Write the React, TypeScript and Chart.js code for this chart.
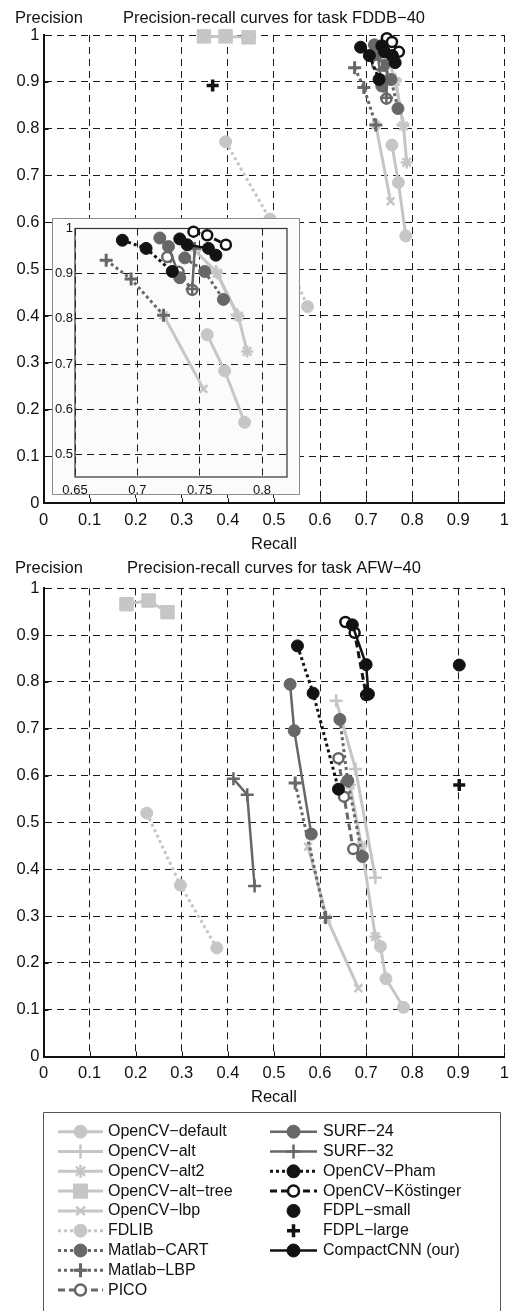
import React, { useEffect, useRef } from 'react';
import { Chart, registerables } from 'chart.js';
import { drawPoint } from 'chart.js/helpers';

Chart.register(...registerables);

const FONT = '"Liberation Sans", Arial, Helvetica, sans-serif';

const methodNames = [
  'OpenCV−default', 'OpenCV−alt', 'OpenCV−alt2', 'OpenCV−alt−tree', 'OpenCV−lbp',
  'FDLIB', 'Matlab−CART', 'Matlab−LBP', 'PICO', 'SURF−24', 'SURF−32',
  'OpenCV−Pham', 'OpenCV−Köstinger', 'FDPL−small', 'FDPL−large', 'CompactCNN (our)',
];

// FDDB-40: [recall, precision]
const fddbOpenCVDefault = [[0.756, 0.765], [0.770, 0.685], [0.786, 0.571]];
const fddbOpenCVAlt = [[0.746, 0.952], [0.763, 0.905], [0.780, 0.809]];
const fddbOpenCVAlt2 = [[0.764, 0.901], [0.781, 0.806], [0.788, 0.728]];
const fddbOpenCVAltTree = [[0.348, 0.997], [0.395, 0.997], [0.445, 0.995]];
const fddbOpenCVLbp = [[0.721, 0.808], [0.753, 0.645]];
const fddbFdlib = [[0.395, 0.772], [0.491, 0.607], [0.573, 0.420]];
const fddbMatlabCart = [[0.738, 0.935], [0.754, 0.905], [0.769, 0.843]];
const fddbMatlabLbp = [[0.675, 0.930], [0.695, 0.888], [0.721, 0.808]];
const fddbPico = [[0.724, 0.937], [0.733, 0.904], [0.744, 0.864]];
const fddbSurf24 = [[0.718, 0.979], [0.725, 0.960], [0.734, 0.891]];
const fddbSurf32 = [[0.746, 0.956], [0.744, 0.866]];
const fddbPham = [[0.688, 0.974], [0.707, 0.956], [0.728, 0.905]];
const fddbKostinger = [[0.745, 0.993], [0.756, 0.985], [0.771, 0.964]];
const fddbFdplSmall = [[0.734, 0.977]];
const fddbFdplLarge = [[0.367, 0.892]];
const fddbCompactCnn = [[0.740, 0.964], [0.757, 0.956], [0.763, 0.941]];

// AFW-40: [recall, precision]
const afwOpenCVDefault = [[0.731, 0.235], [0.743, 0.166], [0.781, 0.105]];
const afwOpenCVAlt = [[0.635, 0.760], [0.677, 0.614], [0.720, 0.382]];
const afwOpenCVAlt2 = [[0.665, 0.580], [0.690, 0.450], [0.720, 0.256]];
const afwOpenCVAltTree = [[0.180, 0.966], [0.228, 0.974], [0.269, 0.949]];
const afwOpenCVLbp = [[0.574, 0.448], [0.615, 0.295], [0.683, 0.146]];
const afwFdlib = [[0.224, 0.520], [0.297, 0.366], [0.376, 0.232]];
const afwMatlabCart = [[0.643, 0.720], [0.660, 0.589], [0.692, 0.427]];
const afwMatlabLbp = [[0.546, 0.584], [0.612, 0.297]];
const afwPico = [[0.640, 0.637], [0.652, 0.555], [0.672, 0.443]];
const afwSurf24 = [[0.535, 0.795], [0.544, 0.696], [0.581, 0.475]];
const afwSurf32 = [[0.412, 0.593], [0.442, 0.559], [0.458, 0.364]];
const afwPham = [[0.551, 0.877], [0.585, 0.776], [0.640, 0.571]];
const afwKostinger = [[0.655, 0.928], [0.675, 0.905], [0.700, 0.772]];
const afwFdplSmall = [[0.902, 0.836]];
const afwFdplLarge = [[0.902, 0.580]];
const afwCompactCnn = [[0.670, 0.922], [0.700, 0.837], [0.705, 0.774]];

const fddbSeries = [
  fddbOpenCVDefault, fddbOpenCVAlt, fddbOpenCVAlt2, fddbOpenCVAltTree, fddbOpenCVLbp,
  fddbFdlib, fddbMatlabCart, fddbMatlabLbp, fddbPico, fddbSurf24, fddbSurf32,
  fddbPham, fddbKostinger, fddbFdplSmall, fddbFdplLarge, fddbCompactCnn,
];
const afwSeries = [
  afwOpenCVDefault, afwOpenCVAlt, afwOpenCVAlt2, afwOpenCVAltTree, afwOpenCVLbp,
  afwFdlib, afwMatlabCart, afwMatlabLbp, afwPico, afwSurf24, afwSurf32,
  afwPham, afwKostinger, afwFdplSmall, afwFdplLarge, afwCompactCnn,
];

const mainTickValues = [0, 0.1, 0.2, 0.3, 0.4, 0.5, 0.6, 0.7, 0.8, 0.9, 1];
const mainTickLabels = ['0', '0.1', '0.2', '0.3', '0.4', '0.5', '0.6', '0.7', '0.8', '0.9', '1'];
const insetXTickValues = [0.65, 0.7, 0.75, 0.8];
const insetXTickLabels = ['0.65', '0.7', '0.75', '0.8'];
const insetYTickValues = [0.5, 0.6, 0.7, 0.8, 0.9, 1];
const insetYTickLabels = ['0.5', '0.6', '0.7', '0.8', '0.9', '1'];

const LIGHT = '#c6c6c6';
const DARK = '#676767';
const BLACK = '#121212';

type Sty = { color: string; dash: number[]; line: boolean; lineWidth: number; point: string; radius: number; pbw: number; open?: boolean };
const styles: Sty[] = [
  { color: LIGHT, dash: [], line: true, lineWidth: 3, point: 'circle', radius: 6, pbw: 1 },
  { color: LIGHT, dash: [], line: true, lineWidth: 3, point: 'cross', radius: 6.5, pbw: 2.5 },
  { color: LIGHT, dash: [], line: true, lineWidth: 3, point: 'star', radius: 6, pbw: 2.5 },
  { color: LIGHT, dash: [], line: true, lineWidth: 3, point: 'rect', radius: 9.5, pbw: 1 },
  { color: LIGHT, dash: [], line: true, lineWidth: 3, point: 'crossRot', radius: 5.5, pbw: 2.5 },
  { color: LIGHT, dash: [3, 3], line: true, lineWidth: 3, point: 'circle', radius: 6, pbw: 1 },
  { color: DARK, dash: [3, 3], line: true, lineWidth: 3, point: 'circle', radius: 6, pbw: 1 },
  { color: DARK, dash: [3, 3], line: true, lineWidth: 3, point: 'cross', radius: 6.5, pbw: 3 },
  { color: DARK, dash: [7, 4], line: true, lineWidth: 3, point: 'circle', radius: 5, pbw: 2.5, open: true },
  { color: DARK, dash: [], line: true, lineWidth: 2.5, point: 'circle', radius: 6, pbw: 1 },
  { color: DARK, dash: [], line: true, lineWidth: 2.5, point: 'cross', radius: 6.5, pbw: 2.5 },
  { color: BLACK, dash: [3, 3], line: true, lineWidth: 3, point: 'circle', radius: 6, pbw: 1 },
  { color: BLACK, dash: [7, 4], line: true, lineWidth: 3, point: 'circle', radius: 5, pbw: 2.5, open: true },
  { color: BLACK, dash: [], line: false, lineWidth: 0, point: 'circle', radius: 6, pbw: 1 },
  { color: BLACK, dash: [], line: false, lineWidth: 0, point: 'cross', radius: 6, pbw: 3.5 },
  { color: BLACK, dash: [], line: true, lineWidth: 2.5, point: 'circle', radius: 6, pbw: 1 },
];

function buildDatasets(series: number[][][], clip: any) {
  return series.map((pts, i) => {
    const s = styles[i];
    return {
      label: methodNames[i],
      data: pts.map(([x, y]) => ({ x, y })),
      showLine: s.line,
      borderColor: s.color,
      backgroundColor: s.color,
      borderWidth: s.lineWidth,
      borderDash: s.dash,
      borderCapStyle: 'butt',
      pointStyle: s.point,
      pointRadius: s.radius,
      pointHoverRadius: s.radius,
      pointBorderWidth: s.pbw,
      pointBorderColor: s.color,
      pointBackgroundColor: s.open ? '#ffffff' : s.color,
      order: series.length - i,
      clip,
    };
  });
}

function scaleOpts(min: number, max: number, values: number[], labels: string[], fontSize: number, padding: number, size: number, horizontal: boolean, showBorder: boolean) {
  return {
    type: 'linear',
    min,
    max,
    afterBuildTicks: (s: any) => { s.ticks = values.map((v) => ({ value: v })); },
    afterFit: (s: any) => { if (horizontal) s.height = size; else s.width = size; },
    ticks: {
      callback: (_v: any, i: number) => labels[i],
      font: { family: FONT, size: fontSize },
      color: '#111111',
      padding,
      maxRotation: 0,
      minRotation: 0,
      autoSkip: false,
    },
    grid: { color: '#1a1a1a', lineWidth: 1, drawTicks: false },
    border: { display: showBorder, color: '#111111', width: 2, dash: [7, 5] },
  };
}

function mainConfig(series: number[][][], title: string, canvasH: number, top: number, bottom: number, withLegend: boolean): any {
  const plugin = {
    id: 'mainDecor',
    beforeDatasetsDraw(chart: any) {
      const ctx = chart.ctx;
      const { left, bottom: b } = chart.chartArea;
      ctx.save();
      ctx.strokeStyle = '#111111';
      ctx.lineWidth = 1;
      ctx.setLineDash([]);
      mainTickValues.forEach((v) => {
        const px = Math.round(chart.scales.x.getPixelForValue(v)) + 0.5;
        ctx.beginPath(); ctx.moveTo(px, b); ctx.lineTo(px, b - 5); ctx.stroke();
        const py = Math.round(chart.scales.y.getPixelForValue(v)) + 0.5;
        ctx.beginPath(); ctx.moveTo(left, py); ctx.lineTo(left + 5, py); ctx.stroke();
      });
      ctx.restore();
    },
    afterDraw(chart: any) {
      const ctx = chart.ctx;
      const { left, right, bottom: b } = chart.chartArea;
      ctx.save();
      ctx.fillStyle = '#111111';
      ctx.font = `16.5px ${FONT}`;
      ctx.textBaseline = 'alphabetic';
      ctx.textAlign = 'left';
      ctx.fillText('Precision', 15, 22.5);
      ctx.textAlign = 'center';
      ctx.fillText(title, (left + right) / 2, 22.5);
      ctx.fillText('Recall', (left + right) / 2, b + 45.8);
      if (withLegend) {
        const boxTop = 562.5;
        const boxBottom = chart.height + 10;
        ctx.strokeStyle = '#555555';
        ctx.lineWidth = 1;
        ctx.setLineDash([]);
        ctx.beginPath();
        ctx.moveTo(43.5, boxBottom);
        ctx.lineTo(43.5, boxTop);
        ctx.lineTo(500.5, boxTop);
        ctx.lineTo(500.5, boxBottom);
        ctx.stroke();
        ctx.font = `16px ${FONT}`;
        ctx.textBaseline = 'middle';
        ctx.textAlign = 'left';
        methodNames.forEach((name, i) => {
          const col = i < 9 ? 0 : 1;
          const row = col === 0 ? i : i - 9;
          const y = boxTop + 19.2 + row * 19.8;
          const x1 = col === 0 ? 58 : 270;
          const x2 = col === 0 ? 103 : 317;
          const xm = (x1 + x2) / 2;
          const tx = col === 0 ? 108 : 323;
          const s = styles[i];
          if (s.line) {
            ctx.save();
            ctx.strokeStyle = s.color;
            ctx.lineWidth = s.lineWidth;
            ctx.setLineDash(s.dash);
            ctx.lineCap = 'butt';
            ctx.beginPath(); ctx.moveTo(x1, y); ctx.lineTo(x2, y); ctx.stroke();
            ctx.restore();
          }
          ctx.save();
          ctx.setLineDash([]);
          ctx.strokeStyle = s.color;
          ctx.fillStyle = s.open ? '#ffffff' : s.color;
          ctx.lineWidth = s.pbw;
          drawPoint(ctx, { pointStyle: s.point, rotation: 0, radius: s.radius + 0.5, borderWidth: s.pbw } as any, xm, y);
          ctx.restore();
          ctx.fillStyle = '#111111';
          ctx.fillText(name, tx, y);
        });
      }
      ctx.restore();
    },
  };
  return {
    type: 'scatter',
    data: { datasets: buildDatasets(series, false) },
    options: {
      responsive: false,
      animation: false,
      events: [],
      layout: { padding: { left: 0, right: 5, top, bottom: 0 } },
      plugins: { legend: { display: false }, tooltip: { enabled: false }, title: { display: false } },
      scales: {
        x: scaleOpts(0, 1, mainTickValues, mainTickLabels, 16.5, 7, canvasH - bottom, true, true),
        y: scaleOpts(0, 1, mainTickValues, mainTickLabels, 16.5, 4, 43.5, false, true),
      },
    },
    plugins: [plugin],
  };
}

function insetConfig(): any {
  const plugin = {
    id: 'insetDecor',
    beforeDraw(chart: any) {
      const ctx = chart.ctx;
      ctx.save();
      ctx.fillStyle = '#fbfbfb';
      ctx.fillRect(0, 0, chart.width, chart.height);
      ctx.strokeStyle = '#8c8c8c';
      ctx.lineWidth = 1;
      ctx.strokeRect(0.5, 0.5, chart.width - 1, chart.height - 1);
      ctx.restore();
    },
    beforeDatasetsDraw(chart: any) {
      const ctx = chart.ctx;
      const { left, right, top, bottom } = chart.chartArea;
      ctx.save();
      ctx.strokeStyle = '#333333';
      ctx.lineWidth = 1.2;
      ctx.setLineDash([]);
      ctx.strokeRect(left, top, right - left, bottom - top);
      ctx.restore();
    },
  };
  return {
    type: 'scatter',
    data: { datasets: buildDatasets(fddbSeries, { left: 8, right: 8, top: 9, bottom: 8 }) },
    options: {
      responsive: false,
      animation: false,
      events: [],
      layout: { padding: { left: 0, right: 13, top: 8.8, bottom: 0 } },
      plugins: { legend: { display: false }, tooltip: { enabled: false }, title: { display: false } },
      scales: {
        x: scaleOpts(0.65, 0.82, insetXTickValues, insetXTickLabels, 13, 6, 18, true, false),
        y: scaleOpts(0.45, 1, insetYTickValues, insetYTickLabels, 13, 2, 23, false, false),
      },
    },
    plugins: [plugin],
  };
}

export default function App() {
  const topRef = useRef<HTMLCanvasElement>(null);
  const insetRef = useRef<HTMLCanvasElement>(null);
  const bottomRef = useRef<HTMLCanvasElement>(null);

  useEffect(() => {
    const charts = [
      new Chart(topRef.current as HTMLCanvasElement, mainConfig(fddbSeries, 'Precision-recall curves for task FDDB−40', 550, 35, 503.3, false)),
      new Chart(insetRef.current as HTMLCanvasElement, insetConfig()),
      new Chart(bottomRef.current as HTMLCanvasElement, mainConfig(afwSeries, 'Precision-recall curves for task AFW−40', 761, 38.3, 506.5, true)),
    ];
    return () => charts.forEach((c) => c.destroy());
  }, []);

  return (
    <div style={{ position: 'fixed', left: 0, top: 0, width: 516, height: 1311, background: '#ffffff', overflow: 'hidden' }}>
      <canvas ref={topRef} width={516} height={550} style={{ position: 'absolute', left: 0, top: 0, width: 516, height: 550 }} />
      <canvas ref={bottomRef} width={516} height={761} style={{ position: 'absolute', left: 0, top: 550, width: 516, height: 761 }} />
      <canvas ref={insetRef} width={248} height={277} style={{ position: 'absolute', left: 52, top: 218, width: 248, height: 277 }} />
    </div>
  );
}
